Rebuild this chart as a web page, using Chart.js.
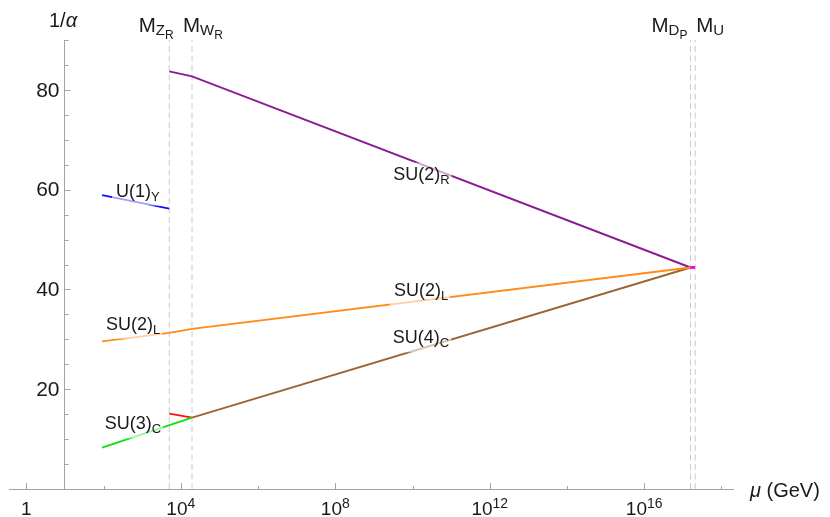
<!DOCTYPE html>
<html>
<head>
<meta charset="utf-8">
<script src="https://cdn.jsdelivr.net/npm/chart.js@4/dist/chart.umd.min.js"></script>
<style>
  html, body { margin: 0; padding: 0; background: #ffffff; }
  #wrap { width: 830px; height: 517px; position: relative; }
</style>
</head>
<body>
<div id="wrap"><canvas id="c"></canvas></div>
<script>
// Running of the inverse gauge couplings 1/alpha versus log10(mu / GeV)

// Symmetry-breaking thresholds: subscript of M and its position in log10(mu)
const thresholdSub = [['Z', 'R'], ['W', 'R'], ['D', 'P'], ['U', '']];
const thresholdLog = [3.70, 4.29, 17.20, 17.32];

// Coupling trajectories (x: log10 mu, y: 1/alpha)
const u1YLog  = [1.96, 3.70];
const u1YInv  = [58.9, 56.2];
const su2LLog = [1.96, 3.70, 4.29, 17.20];
const su2LInv = [29.6, 31.3, 32.1, 44.4];
const su3CLog = [1.96, 4.29];
const su3CInv = [8.3, 14.3];
const redLog  = [3.70, 4.29];
const redInv  = [15.1, 14.3];
const su4CLog = [4.29, 17.20];
const su4CInv = [14.3, 44.4];
const su2RLog = [3.70, 4.29, 17.20];
const su2RInv = [83.7, 82.7, 44.4];
const unifLog = [17.20, 17.32];
const unifInv = [44.4, 44.4];

// Axis ticks
const xMajorExp = [0, 4, 8, 12, 16];
const xMinorExp = [2, 6, 10, 14, 18];
const yTickVals = [20, 40, 60, 80];

const FAMILY = '"Liberation Sans", Arial, Helvetica, sans-serif';
const TEXT = '#1a1a1a';
const AXIS = '#a3a3a3';

const pts = (xs, ys) => xs.map((x, i) => ({ x: x, y: ys[i] }));

const curve = (xs, ys, color, width) => ({
  data: pts(xs, ys),
  showLine: true,
  borderColor: color,
  backgroundColor: color,
  borderWidth: width || 1.9,
  pointRadius: 0,
  fill: false
});

const datasets = [
  curve(unifLog, unifInv, '#ff00ff', 3),
  curve(u1YLog, u1YInv, '#1010ff'),
  curve(su2LLog, su2LInv, '#ff8a1a'),
  curve(su3CLog, su3CInv, '#10e010'),
  curve(redLog, redInv, '#ff1010'),
  curve(su4CLog, su4CInv, '#996633'),
  curve(su2RLog, su2RInv, '#8c1a92')
];
// dashed threshold markers, listed last so they sit under the curves
thresholdLog.forEach(t => {
  datasets.push({
    data: [{ x: t, y: 0 }, { x: t, y: 90 }],
    showLine: true,
    borderColor: '#cbcbcb',
    borderWidth: 1,
    borderDash: [6, 3.5],
    pointRadius: 0,
    fill: false
  });
});

// Draws a run of text pieces left to right; each piece has its own size and baseline shift
function drawRich(ctx, pieces, x, y) {
  let cx = x;
  pieces.forEach(p => {
    ctx.font = (p.italic ? 'italic ' : '') + p.size + 'px ' + FAMILY;
    ctx.fillText(p.t, cx, y + (p.dy || 0));
    cx += ctx.measureText(p.t).width;
  });
  return cx - x;
}
function richWidth(ctx, pieces) {
  let w = 0;
  pieces.forEach(p => {
    ctx.font = (p.italic ? 'italic ' : '') + p.size + 'px ' + FAMILY;
    w += ctx.measureText(p.t).width;
  });
  return w;
}

// Curve labels anchored in data coordinates (left edge, baseline)
const curveLabels = [
  { main: 'U(1)',  sub: 'Y', at: [2.32, 58.6] },
  { main: 'SU(2)', sub: 'L', at: [2.06, 31.9] },
  { main: 'SU(3)', sub: 'C', at: [2.03, 11.95] },
  { main: 'SU(2)', sub: 'R', at: [9.50, 62.0] },
  { main: 'SU(2)', sub: 'L', at: [9.52, 38.65] },
  { main: 'SU(4)', sub: 'C', at: [9.49, 29.2] }
];

const decor = {
  id: 'decor',
  afterDatasetsDraw(chart) {
    const { ctx, scales: { x, y } } = chart;
    const x0 = x.getPixelForValue(1);
    const y0 = y.getPixelForValue(0);
    ctx.save();

    // inward tick marks
    ctx.strokeStyle = AXIS;
    ctx.lineWidth = 1;
    ctx.beginPath();
    xMajorExp.concat(xMinorExp).forEach(e => {
      const px = Math.round(x.getPixelForValue(e)) + 0.5;
      const len = xMajorExp.includes(e) ? 6 : 3;
      ctx.moveTo(px, y0);
      ctx.lineTo(px, y0 - len);
    });
    for (let v = 5; v <= 90; v += 5) {
      const py = Math.round(y.getPixelForValue(v)) + 0.5;
      const len = v % 20 === 0 ? 5.5 : 3.5;
      ctx.moveTo(x0, py);
      ctx.lineTo(x0 + len, py);
    }
    ctx.stroke();

    ctx.fillStyle = TEXT;
    ctx.textBaseline = 'alphabetic';
    ctx.textAlign = 'left';

    // y tick labels, right-aligned left of the axis
    ctx.font = '21px ' + FAMILY;
    ctx.textAlign = 'right';
    ctx.textBaseline = 'middle';
    y.ticks.forEach(t => {
      ctx.fillText(String(t.value), x0 - 5.5, y.getPixelForValue(t.value) + 1);
    });
    ctx.textAlign = 'left';
    ctx.textBaseline = 'alphabetic';

    // x tick labels: 1, 10^4, ...
    xMajorExp.forEach(e => {
      const pieces = e === 0 ? [{ t: '1', size: 19 }]
        : [{ t: '10', size: 19 }, { t: String(e), size: 14, dy: -7.5 }];
      const w = richWidth(ctx, pieces);
      drawRich(ctx, pieces, x.getPixelForValue(e) - w / 2, 515);
    });

    // axis titles
    drawRich(ctx, [{ t: '1/', size: 20 }, { t: '\u03B1', size: 20, italic: true }], 49, 27);
    drawRich(ctx, [{ t: '\u03BC', size: 20, italic: true }, { t: ' (GeV)', size: 20 }], 750, 497);

    // threshold names above the dashed markers
    const thrOffsets = [-30.5, -9, -39, 1];
    thresholdLog.forEach((t, i) => {
      const [s1, s2] = thresholdSub[i];
      const pieces = [{ t: 'M', size: 20.5 }, { t: s1, size: 15, dy: 3.5 }];
      if (s2) pieces.push({ t: s2, size: 12, dy: 7.5 });
      drawRich(ctx, pieces, x.getPixelForValue(t) + thrOffsets[i], 31.5);
    });

    // curve labels with a translucent white box behind them
    curveLabels.forEach(l => {
      const pieces = [{ t: l.main, size: 18 }, { t: l.sub, size: 13, dy: 4 }];
      const lx = x.getPixelForValue(l.at[0]);
      const ly = y.getPixelForValue(l.at[1]);
      const w = richWidth(ctx, pieces);
      ctx.fillStyle = 'rgba(255,255,255,0.6)';
      ctx.fillRect(lx - 4, ly - 17, w + 6, 26);
      ctx.fillStyle = TEXT;
      drawRich(ctx, pieces, lx, ly);
    });

    ctx.restore();
  }
};

new Chart(document.getElementById('c'), {
  type: 'scatter',
  data: { datasets: datasets },
  options: {
    responsive: true,
    maintainAspectRatio: false,
    animation: false,
    layout: { padding: { left: 9, right: 97, top: 40, bottom: 28 } },
    plugins: { legend: { display: false }, tooltip: { enabled: false } },
    elements: { line: { tension: 0 } },
    scales: {
      x: {
        type: 'linear',
        min: -0.45,
        max: 18.3,
        position: { y: 0 },
        grid: { display: false, drawTicks: false },
        border: { display: true, color: AXIS, width: 1 },
        ticks: { display: false }
      },
      y: {
        type: 'linear',
        min: 0,
        max: 90,
        position: { x: 1 },
        afterBuildTicks: s => { s.ticks = yTickVals.map(v => ({ value: v })); },
        grid: { display: false, drawTicks: false },
        border: { display: true, color: AXIS, width: 1 },
        ticks: { display: false }
      }
    }
  },
  plugins: [decor]
});
</script>
</body>
</html>
